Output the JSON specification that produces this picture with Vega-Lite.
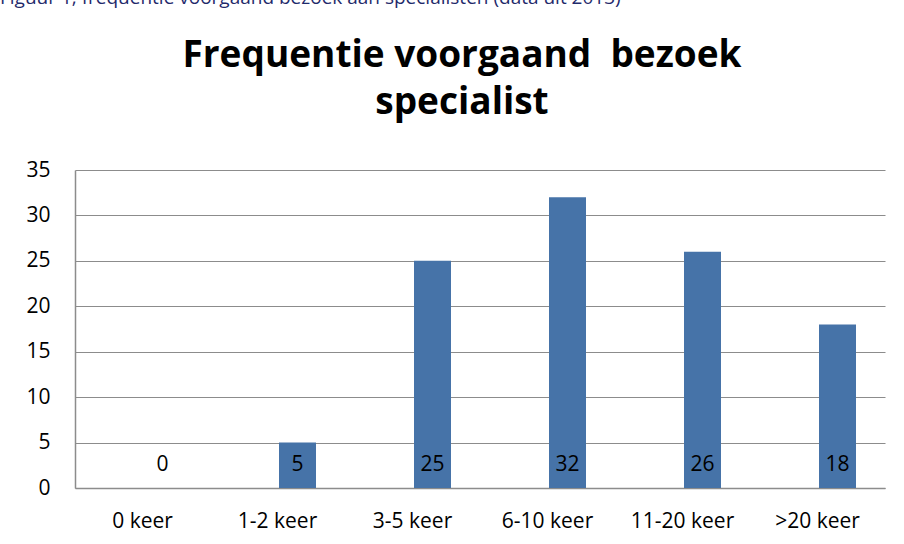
{
  "$schema": "https://vega.github.io/schema/vega-lite/v6.json",
  "padding": {"left": 0, "top": -11, "right": 10, "bottom": 20},
  "background": "white",
  "title": {
    "text": "Figuur 1, frequentie voorgaand bezoek aan specialisten (data uit 2013)",
    "anchor": "start",
    "frame": "group",
    "dx": -75,
    "fontSize": 19,
    "fontWeight": "normal",
    "font": "Open Sans",
    "color": "#1F2A6B",
    "offset": 29
  },
  "vconcat": [
    {
      "width": 810,
      "height": 318,
      "title": {
        "text": ["Frequentie voorgaand\u00a0 bezoek", "specialist"],
        "font": "Open Sans",
        "fontSize": 37,
        "fontWeight": "bold",
        "lineHeight": 47,
        "anchor": "middle",
        "dx": -18,
        "offset": 37,
        "color": "black"
      },
      "data": {
        "values": [
          {"cat": "0 keer", "n": 0},
          {"cat": "1-2 keer", "n": 5},
          {"cat": "3-5 keer", "n": 25},
          {"cat": "6-10 keer", "n": 32},
          {"cat": "11-20 keer", "n": 26},
          {"cat": ">20 keer", "n": 18}
        ]
      },
      "encoding": {
        "x": {
          "field": "cat",
          "type": "nominal",
          "sort": null,
          "scale": {"paddingInner": 0, "paddingOuter": 0},
          "axis": {
            "title": null,
            "labelAngle": 0,
            "ticks": false,
            "tickSize": 0,
            "labelPadding": 22,
            "labelFontSize": 21,
            "labelFont": "Open Sans",
            "labelColor": "black",
            "domainColor": "#8c8c8c",
            "domainWidth": 1.5,
            "grid": false
          }
        }
      },
      "layer": [
        {
          "mark": {"type": "bar", "width": 37, "xOffset": 20, "color": "#4673A8"},
          "encoding": {
            "y": {
              "field": "n",
              "type": "quantitative",
              "scale": {"domain": [0, 35], "nice": false},
              "axis": {
                "title": null,
                "values": [0, 5, 10, 15, 20, 25, 30, 35],
                "ticks": false,
                "tickSize": 0,
                "labelPadding": 25,
                "labelFontSize": 21,
                "labelFont": "Open Sans",
                "labelColor": "black",
                "domainColor": "#8c8c8c",
                "domainWidth": 1.5,
                "grid": true,
                "gridColor": "#8c8c8c",
                "gridWidth": 1.2
              }
            }
          }
        },
        {
          "mark": {"type": "text", "xOffset": 20, "dy": -23, "baseline": "middle", "fontSize": 21, "font": "Open Sans", "color": "black"},
          "encoding": {
            "y": {"datum": 0, "type": "quantitative"},
            "text": {"field": "n", "type": "quantitative"}
          }
        }
      ]
    }
  ],
  "config": {"view": {"stroke": null}}
}
